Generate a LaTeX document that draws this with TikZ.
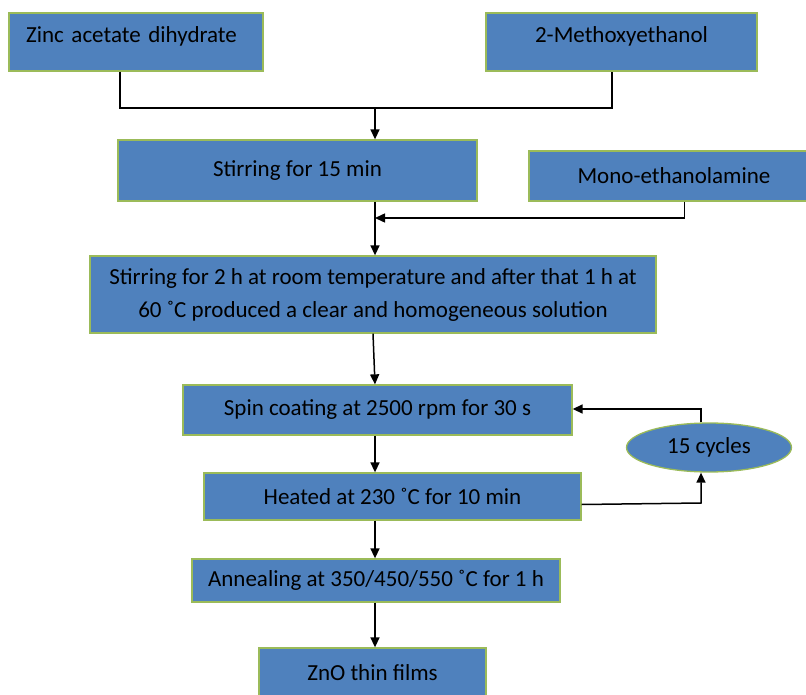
\documentclass[tikz,border=0pt]{standalone}
\usepackage{fontspec}
\setmainfont{Carlito}
\usetikzlibrary{arrows.meta,shapes.geometric}
\definecolor{boxblue}{HTML}{4F81BD}
\definecolor{boxgreen}{HTML}{9BBB59}
\tikzset{
    procbox/.style={draw=boxgreen, fill=boxblue, line width=1.3pt, inner sep=0pt,
        font=\fontsize{23}{33}\selectfont},
    loopnode/.style={ellipse, draw=boxgreen, fill=boxblue, line width=1.3pt, inner sep=0pt,
        font=\fontsize{23}{33}\selectfont},
    >={Triangle[length=10pt,width=9pt]}
}
\begin{document}
\begin{tikzpicture}[x=1pt, y=-1pt, line width=1.5pt]
    \useasboundingbox (0,0) rectangle (806,695);
    \clip (0,0) rectangle (806,695);
    % Draw boxes
    \node [procbox, text width=220pt, align=left, inner xsep=17pt, minimum height=58pt,
        text height=16pt, text depth=14pt] (zad) at (136,42) {Zinc acetate dihydrate};
    \node [procbox, minimum width=271pt, minimum height=58pt,
        text height=16pt, text depth=14pt] (meth) at (621.5,42) {2-Methoxyethanol};
    \node [procbox, minimum width=359pt, minimum height=61pt] (stira) at (297.5,170.5) {Stirring for 15 min};
    \node [procbox, minimum width=290pt, minimum height=50pt] (mea) at (674,176) {Mono-ethanolamine};
    \node [procbox, minimum width=566pt, minimum height=77pt, align=center] (stirb) at (373,294.5)
        {Stirring for 2 h at room temperature and after that 1 h at\\60 ˚C produced a clear and homogeneous solution};
    \node [procbox, minimum width=389pt, minimum height=50pt] (spin) at (377.5,410) {Spin coating at 2500 rpm for 30 s};
    \node [loopnode, minimum width=165pt, minimum height=49pt] (cyc) at (709,447.5) {15 cycles};
    \node [procbox, minimum width=377pt, minimum height=47pt] (heat) at (392.5,496.5) {Heated at 230 ˚C for 10 min};
    \node [procbox, minimum width=368pt, minimum height=43pt] (anl) at (376,580.5) {Annealing at 350/450/550 ˚C for 1 h};
    \node [procbox, minimum width=227pt, minimum height=49pt] (zno) at (372.5,672.5) {ZnO thin films};
    % Draw connectors
    \coordinate (ja) at (375,108);
    \coordinate (jb) at (375,218);
    \coordinate (lp) at (701,503);
    \draw ([xshift=-16pt]zad.south) |- (ja) -| ([xshift=-9.5pt]meth.south);
    \draw [->] (ja) -- (stira.north -| ja);
    \draw [->] (stira.south -| jb) -- (stirb.north -| jb);
    \draw [->] ([xshift=10.5pt]mea.south) |- (jb);
    \draw [->] (stirb.south) -- (spin.north -| ja);
    \draw [->] (spin.south -| ja) -- (heat.north -| ja);
    \draw [->] (heat.south -| ja) -- (anl.north -| ja);
    \draw [->] (anl.south -| ja) -- (zno.north -| ja);
    \draw [->] (cyc.north -| lp) |- ([yshift=1pt]spin.east);
    \draw [->] ([yshift=-8pt]heat.east) -- (lp) -- (cyc.south -| lp);
\end{tikzpicture}
\end{document}
